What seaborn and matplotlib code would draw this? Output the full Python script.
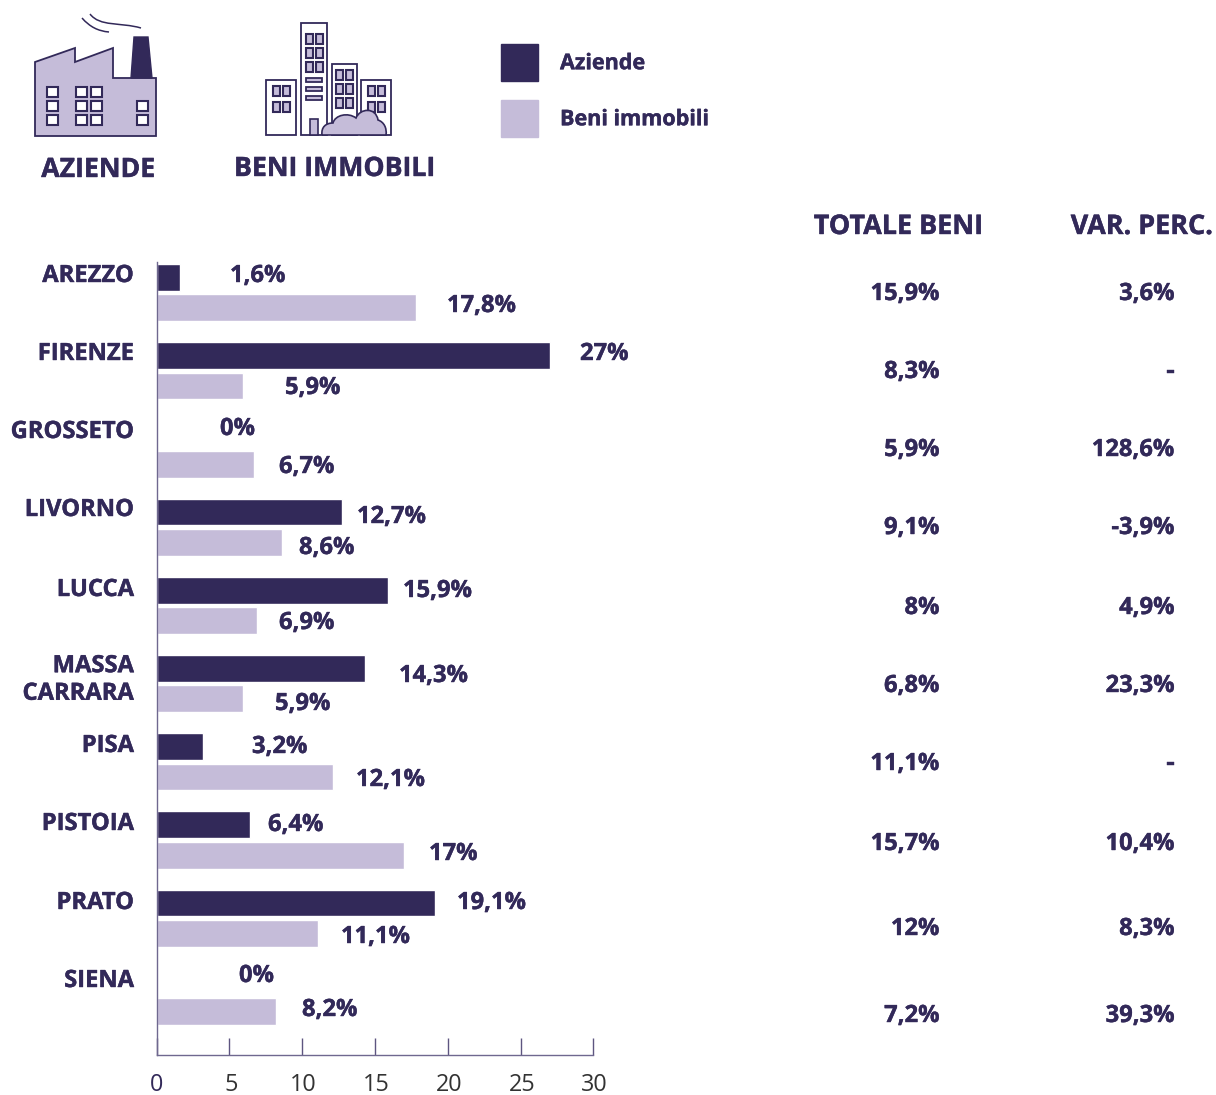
import matplotlib
matplotlib.use("Agg")
import matplotlib.pyplot as plt
import matplotlib.patheffects as pe
from matplotlib.patches import Polygon, Rectangle, PathPatch, Patch
from matplotlib.path import Path
from matplotlib.transforms import ScaledTranslation
import pandas as pd
import seaborn as sns

categories = ["AREZZO", "FIRENZE", "GROSSETO", "LIVORNO", "LUCCA", "MASSA\nCARRARA",
              "PISA", "PISTOIA", "PRATO", "SIENA"]
aziende = [1.6, 27, 0, 12.7, 15.9, 14.3, 3.2, 6.4, 19.1, 0]
beni = [17.8, 5.9, 6.7, 8.6, 6.9, 5.9, 12.1, 17, 11.1, 8.2]
totale_beni = ["15,9%", "8,3%", "5,9%", "9,1%", "8%", "6,8%", "11,1%", "15,7%", "12%", "7,2%"]
var_perc = ["3,6%", "-", "128,6%", "-3,9%", "4,9%", "23,3%", "-", "10,4%", "8,3%", "39,3%"]
az_labels = ["1,6%", "27%", "0%", "12,7%", "15,9%", "14,3%", "3,2%", "6,4%", "19,1%", "0%"]
be_labels = ["17,8%", "5,9%", "6,7%", "8,6%", "6,9%", "5,9%", "12,1%", "17%", "11,1%", "8,2%"]
x_ticks = [0, 5, 10, 15, 20, 25, 30]

# label placement in pixels of the page
cat_y = [274, 352, 430, 508, 588, 678, 744, 822, 901, 979]
az_xy = [(230, 274), (580, 352), (220, 427), (357, 515), (403, 589), (399, 674), (252, 745), (268, 823), (457, 901), (239, 974)]
be_xy = [(447, 304), (285, 386), (279, 465), (299, 546), (279, 621), (275, 702), (356, 778), (429, 852), (341, 935), (302, 1008)]
col_y = [292, 370, 448, 526, 606, 684, 762, 842, 927, 1014]

DARK = "#322959"
LIGHT = "#c5bcd9"
W, H = 1216, 1095

sns.set_theme(style="white")
plt.rcParams["font.family"] = ["Open Sans", "DejaVu Sans"]

df = pd.DataFrame({
    "Provincia": categories * 2,
    "Valore": aziende + beni,
    "Tipo": ["Aziende"] * len(aziende) + ["Beni immobili"] * len(beni),
})

fig = plt.figure(figsize=(W / 100, H / 100), dpi=100, facecolor="white")
ax = fig.add_axes([156.7 / W, (H - 1055) / H, 436.6 / W, 793 / H])
sns.barplot(data=df, y="Provincia", x="Valore", hue="Tipo", order=categories,
            palette=[DARK, LIGHT], orient="h", width=0.775, gap=0.115,
            saturation=1, legend=False, ax=ax)
ax.set_xlim(0, 30)
ax.set_ylim(9.75, -0.391)
ax.set_xlabel("")
ax.set_ylabel("")
ax.set_yticks([])
ax.set_xticks(x_ticks)
ax.set_xticklabels([str(t) for t in x_ticks], fontsize=16.8, color="#333333")
ax.tick_params(axis="x", direction="in", length=12.2, width=1.0, color="#5d5580", pad=13, bottom=True)
labels = ax.get_xticklabels()
labels[0].set_color(DARK)
for lab in labels[1:]:
    lab.set_transform(lab.get_transform() + ScaledTranslation(1.5 / 100, 0, fig.dpi_scale_trans))
for s in ("top", "right"):
    ax.spines[s].set_visible(False)
for s in ("left", "bottom"):
    ax.spines[s].set_color("#6f688f")
    ax.spines[s].set_linewidth(1.0)
ax.patch.set_alpha(0)

# overlay in page pixels for annotations and pictograms
ov = fig.add_axes([0, 0, 1, 1], facecolor="none")
ov.set_xlim(0, W)
ov.set_ylim(H, 0)
ov.axis("off")

FS = 17.1
HEAVY = [pe.withStroke(linewidth=0.3, foreground=DARK)]


def t(x, y, s, ha="left", fs=FS, color=DARK, weight="bold"):
    ov.text(x, y + 2, s, ha=ha, va="center", fontsize=fs, color=color, fontweight=weight,
            linespacing=1.2, path_effects=HEAVY)


for c, y in zip(categories, cat_y):
    t(134, y, c, ha="right")
for s, (x, y) in zip(az_labels, az_xy):
    t(x, y, s)
for s, (x, y) in zip(be_labels, be_xy):
    t(x, y, s)
for a, b, y in zip(totale_beni, var_perc, col_y):
    t(939.5, y, a, ha="right")
    t(1174.5, y, b, ha="right")
t(898, 225, "TOTALE BENI", ha="center", fs=19.4)
t(1141.5, 225, "VAR. PERC.", ha="center", fs=19.4)
t(98, 168, "AZIENDE", ha="center", fs=19.2)
t(334, 167, "BENI IMMOBILI", ha="center", fs=19.2)

LFS = 15.5
em = LFS * 100 / 72
leg = fig.legend(handles=[Patch(color=DARK, label="Aziende"), Patch(color=LIGHT, label="Beni immobili")],
                 loc="upper left", bbox_to_anchor=(501 / W, 1 - 44 / H), borderaxespad=0, borderpad=0,
                 frameon=False, handlelength=37 / em, handleheight=2.27,
                 handletextpad=22 / em, labelspacing=19 / em,
                 prop={"family": "Open Sans", "weight": "bold", "size": LFS}, labelcolor=DARK)
for txt in leg.get_texts():
    txt.set_path_effects(HEAVY)

# factory pictogram
ov.add_patch(Polygon([(35, 62), (75, 48), (75, 62), (113, 48), (113, 78), (156, 78), (156, 136), (35, 136)],
                     closed=True, fc=LIGHT, ec=DARK, lw=1.3))
ov.add_patch(Polygon([(134, 37), (148, 37), (152, 78), (131, 78)], closed=True, fc=DARK, ec=DARK, lw=1))
for x, y in [(47, 87), (47, 101), (47, 115), (76, 87), (76, 101), (76, 115), (91, 87), (91, 101), (91, 115),
             (137, 101), (137, 115)]:
    ov.add_patch(Rectangle((x - 0.5, y), 11, 9.5, fc="white", ec=DARK, lw=1.5))
for verts in ([(82, 18), (90, 27), (98, 31), (109, 32)],
              [(90, 14), (100, 27), (120, 22), (141, 28)]):
    ov.add_patch(PathPatch(Path(verts, [Path.MOVETO, Path.CURVE4, Path.CURVE4, Path.CURVE4]),
                           fc="none", ec=DARK, lw=1.1))

# buildings pictogram
for x0, y0, x1 in [(266, 80, 296), (332, 64, 357), (361, 80, 391)]:
    ov.add_patch(Rectangle((x0, y0), x1 - x0, 135 - y0, fc="white", ec=DARK, lw=1.3))
ov.add_patch(Rectangle((301, 23), 26, 112, fc="white", ec=DARK, lw=1.3))
windows = [(306, y) for y in (34, 48, 62)] + [(316, y) for y in (34, 48, 62)]
windows += [(273, y) for y in (86, 102)] + [(283, y) for y in (86, 102)]
windows += [(336, y) for y in (70, 84, 98)] + [(346, y) for y in (70, 84, 98)]
windows += [(368, y) for y in (86, 102)] + [(378, y) for y in (86, 102)]
for x, y in windows:
    ov.add_patch(Rectangle((x, y), 6.5, 10, fc=LIGHT, ec=DARK, lw=1.5))
for y in (78, 87, 96):
    ov.add_patch(Rectangle((306, y), 16, 4, fc=LIGHT, ec=DARK, lw=1.3))
ov.add_patch(Rectangle((310, 119), 8, 16, fc=LIGHT, ec=DARK, lw=1.2))
C = Path.CURVE4
cloud = Path([(322, 135), (321, 127), (326, 123), (333, 123),
              (335, 115), (348, 112), (356, 118),
              (360, 108), (376, 107), (378, 120),
              (384, 122), (387, 128), (386, 135), (322, 135)],
             [Path.MOVETO, C, C, C, C, C, C, C, C, C, C, C, C, Path.LINETO])
ov.add_patch(PathPatch(cloud, fc=LIGHT, ec=DARK, lw=1.2))

fig.savefig("out.png", dpi=100)
